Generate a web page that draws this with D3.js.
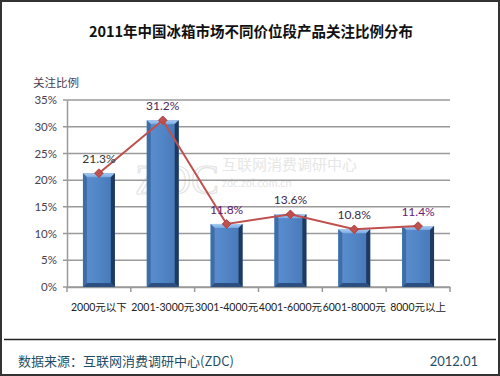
<!DOCTYPE html>
<html><head><meta charset="utf-8">
<script src="https://cdn.jsdelivr.net/npm/d3@7"></script>
<style>
html,body{margin:0;padding:0;background:#fff;}
svg{display:block;}
text{font-family:"Lato","Noto Sans CJK SC",sans-serif;}
</style></head>
<body>
<svg id="chart" width="500" height="376"></svg>
<script>
const categories = ["2000元以下","2001-3000元","3001-4000元","4001-6000元","6001-8000元","8000元以上"];
const values = [21.3, 31.2, 11.8, 13.6, 10.8, 11.4];
const labelTexts = ["21.3%","31.2%","11.8%","13.6%","10.8%","11.4%"];
const yTicks = [0,5,10,15,20,25,30,35];
const titleText = "2011年中国冰箱市场不同价位段产品关注比例分布";
const yAxisTitle = "关注比例";
const sourceText = "数据来源：互联网消费调研中心(ZDC)";
const dateText = "2012.01";

const svg = d3.select("#chart");
const W = 500, H = 376;
const pLeft = 67, pRight = 450, pTop = 100, pBottom = 287;

// frame
svg.append("rect").attr("x",1).attr("y",1).attr("width",W-2).attr("height",H-2)
  .attr("fill","#fff").attr("stroke","#333").attr("stroke-width",2);

// title
svg.append("text").attr("x",251).attr("y",37).attr("text-anchor","middle")
  .attr("font-size",14.5).attr("font-weight","bold").attr("fill","#111")
  .style("font-family","'Noto Sans CJK SC',sans-serif").text(titleText);

// y axis title
svg.append("text").attr("x",33).attr("y",87).attr("font-size",11.5).attr("fill","#4a4050")
  .style("font-family","'Noto Sans CJK SC',sans-serif").text(yAxisTitle);

const x = d3.scaleBand().domain(categories).range([pLeft,pRight]).paddingInner(0.5).paddingOuter(0.25);
const xb = d3.scaleBand().domain(categories).range([pLeft,pRight]);
const y = d3.scaleLinear().domain([0,35]).range([pBottom,pTop]);

// watermark
const wm = svg.append("g").attr("fill","#e6e6e6");
wm.append("text").attr("x",135).attr("y",194).attr("font-size",42)
  .style("font-family","'Liberation Serif',serif").attr("fill","none").attr("stroke","#e4e4e4").attr("stroke-width",1.2).text("ZDC");
wm.append("text").attr("x",222).attr("y",170).attr("font-size",15)
  .style("font-family","'Noto Sans CJK SC',sans-serif").text("互联网消费调研中心");
wm.append("text").attr("x",222).attr("y",187).attr("font-size",11).text("zdc.zol.com.cn");

// gridlines
svg.append("g").selectAll("line").data(yTicks).join("line")
  .attr("x1",pLeft-4).attr("x2",pRight).attr("y1",d=>y(d)).attr("y2",d=>y(d))
  .attr("stroke","#9a9a9a").attr("stroke-width",1.5);

// y axis
const yAxis = d3.axisLeft(y).tickValues(yTicks).tickFormat(d=>d+"%").tickSize(0).tickPadding(10);
const ga = svg.append("g").attr("transform",`translate(${pLeft},0)`).call(yAxis);
ga.select(".domain").attr("stroke","#9a9a9a").attr("stroke-width",1.5);
ga.selectAll("text").attr("font-size",11.5).attr("fill","#4a4050").style("font-family","Lato,sans-serif");

// x axis
const xAxis = d3.axisBottom(xb).tickSize(0).tickPadding(0);
const gx = svg.append("g").attr("transform",`translate(0,${pBottom})`).call(xAxis);
gx.select(".domain").attr("stroke","#9a9a9a").attr("stroke-width",1.5);
gx.selectAll(".tick text").attr("y",24).attr("dy",0).attr("font-size",10.5).attr("fill","#222")
  .style("font-family","Lato,'Noto Sans CJK SC',sans-serif");
// x tick marks at boundaries
const bounds = categories.map(c=>xb(c)).concat([pRight]);
svg.append("g").selectAll("line").data(bounds).join("line")
  .attr("x1",d=>d).attr("x2",d=>d).attr("y1",pBottom).attr("y2",pBottom+5)
  .attr("stroke","#9a9a9a").attr("stroke-width",1.5);

// gradients
const defs = svg.append("defs");
const gf = defs.append("linearGradient").attr("id","face").attr("x1","0").attr("x2","1").attr("y1","0").attr("y2","0");
gf.append("stop").attr("offset","0").attr("stop-color","#5c8fd0");
gf.append("stop").attr("offset","0.5").attr("stop-color","#5285c6");
gf.append("stop").attr("offset","1").attr("stop-color","#4677b5");
const gt = defs.append("linearGradient").attr("id","topb").attr("x1","0").attr("x2","0").attr("y1","0").attr("y2","1");
gt.append("stop").attr("offset","0").attr("stop-color","#a9cdf3");
gt.append("stop").attr("offset","1").attr("stop-color","#78a8e0");

// bars
const b = 4;
const bars = svg.append("g").selectAll("g").data(values).join("g");
bars.each(function(v,i){
  const g = d3.select(this);
  const x0 = x(categories[i]), w = x.bandwidth(), yt = y(v), y0 = y(0);
  g.append("rect").attr("x",x0).attr("y",yt).attr("width",w).attr("height",y0-yt).attr("fill","url(#face)");
  g.append("polygon").attr("points",[[x0,yt],[x0+w,yt],[x0+w-b,yt+b],[x0+b,yt+b]].join(" ")).attr("fill","url(#topb)");
  g.append("polygon").attr("points",[[x0,yt],[x0+b,yt+b],[x0+b,y0-b],[x0,y0]].join(" ")).attr("fill","#3f6da6");
  g.append("polygon").attr("points",[[x0+w,yt],[x0+w,y0],[x0+w-b,y0-b],[x0+w-b,yt+b]].join(" ")).attr("fill","#1f3a60");
  g.append("polygon").attr("points",[[x0,y0],[x0+w,y0],[x0+w-b,y0-b],[x0+b,y0-b]].join(" ")).attr("fill","#2b4f80");
});

// line
const cx = d => x(d) + x.bandwidth()/2;
const line = d3.line().x((d,i)=>cx(categories[i])).y(d=>y(d));
svg.append("path").datum(values).attr("d",line).attr("fill","none")
  .attr("stroke","#c0504d").attr("stroke-width",2);
svg.append("g").selectAll("path").data(values).join("path")
  .attr("d",d3.symbol(d3.symbolSquare, 38))
  .attr("transform",(d,i)=>`translate(${cx(categories[i])},${y(d)}) rotate(45)`)
  .attr("fill","#c0504d").attr("stroke","#a33b38").attr("stroke-width",0.8);

// labels
const labelColors = ["#333","#4a2a5a","#5a1a6a","#3a2a4a","#3a2a4a","#6a1a7a"];
svg.append("g").selectAll("text").data(values).join("text")
  .attr("x",(d,i)=>cx(categories[i])).attr("y",d=>y(d)-10)
  .attr("text-anchor","middle").attr("font-size",12).attr("fill",(d,i)=>labelColors[i])
  .text((d,i)=>labelTexts[i]);

// footer
svg.append("line").attr("x1",4).attr("x2",496).attr("y1",339.5).attr("y2",339.5)
  .attr("stroke","#222").attr("stroke-width",1.5);
svg.append("text").attr("x",18).attr("y",366).attr("font-size",13).attr("fill","#1f4f66")
  .style("font-family","'Noto Sans CJK SC',sans-serif").text(sourceText);
svg.append("text").attr("x",478).attr("y",366).attr("text-anchor","end").attr("font-size",13).attr("fill","#1f4f66")
  .style("font-family","Lato,sans-serif").text(dateText);
</script>
</body></html>
